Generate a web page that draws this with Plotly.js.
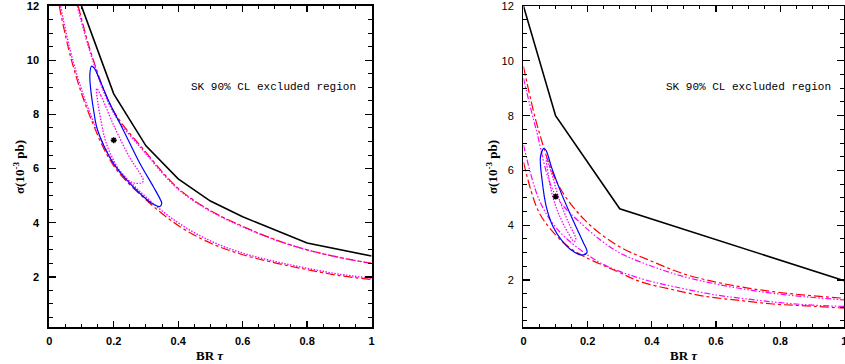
<!DOCTYPE html>
<html>
<head>
<meta charset="utf-8">
<script src="https://cdn.plot.ly/plotly-3.0.1.min.js"></script>
<style>html,body{margin:0;padding:0;background:#fff}#chart{width:845px;height:364px}</style>
</head>
<body>
<div id="chart"></div>
<script>
// ---------- tick labels ----------
const xTickVals = [0, 0.2, 0.4, 0.6, 0.8, 1];
const xTickText = ['0', '0.2', '0.4', '0.6', '0.8', '1'];
const yTickVals = [2, 4, 6, 8, 10, 12];
const yTickText = ['2', '4', '6', '8', '10', '12'];

// ---------- left panel ----------
const L_black_x = [0.1, 0.2, 0.3, 0.4, 0.5, 0.6, 0.8, 1.0];
const L_black_y = [12.0, 8.76, 6.84, 5.62, 4.8, 4.22, 3.25, 2.77];

const L_redUp_x = [0.09, 0.137, 0.2, 0.3, 0.4, 0.5, 0.6, 0.7, 0.8, 0.9, 1.0];
const L_redUp_y = [12.0, 10.0, 8.12, 6.6, 5.27, 4.45, 3.87, 3.38, 3.0, 2.72, 2.5];
const L_magUp_x = [0.087, 0.135, 0.2, 0.3, 0.4, 0.5, 0.6, 0.7, 0.8, 0.9, 1.0];
const L_magUp_y = [12.0, 10.0, 8.05, 6.55, 5.24, 4.43, 3.85, 3.37, 3.0, 2.72, 2.5];

const L_redLo_x = [0.031, 0.069, 0.124, 0.2, 0.3, 0.4, 0.5, 0.6, 0.7, 0.8, 0.9, 1.0];
const L_redLo_y = [12.0, 10.0, 8.0, 6.1, 4.85, 3.9, 3.25, 2.82, 2.52, 2.27, 2.05, 1.9];
const L_magLo_x = [0.035, 0.073, 0.128, 0.2, 0.3, 0.4, 0.5, 0.6, 0.7, 0.8, 0.9, 1.0];
const L_magLo_y = [12.0, 10.0, 8.0, 6.22, 4.95, 4.0, 3.33, 2.88, 2.57, 2.32, 2.1, 1.95];

const L_blue_x = [0.131, 0.126, 0.128, 0.137, 0.147, 0.16, 0.173, 0.199, 0.24, 0.281, 0.318, 0.343, 0.349, 0.345, 0.323, 0.281, 0.23, 0.188, 0.157, 0.14, 0.131];
const L_blue_y = [9.78, 9.5, 9.0, 8.2, 7.54, 7.1, 6.75, 6.19, 5.58, 5.09, 4.72, 4.6, 4.72, 4.85, 5.33, 6.2, 7.42, 8.4, 9.26, 9.7, 9.78];

const L_inner_x = [0.147, 0.16, 0.2, 0.25, 0.28, 0.292, 0.285, 0.26, 0.23, 0.2, 0.175, 0.16, 0.15, 0.147];
const L_inner_y = [8.96, 8.7, 7.6, 6.4, 5.85, 5.55, 5.47, 5.48, 5.7, 6.3, 7.0, 7.8, 8.5, 8.96];

const L_best_x = [0.2];
const L_best_y = [7.05];

// ---------- right panel ----------
const R_black_x = [0, 0.1, 0.3, 1.0];
const R_black_y = [12.0, 8.0, 4.6, 1.97];

const R_redUp_x = [0, 0.047, 0.107, 0.19, 0.294, 0.4, 0.5, 0.6, 0.7, 0.8, 0.9, 1.0];
const R_redUp_y = [9.8, 7.47, 5.5, 4.2, 3.25, 2.68, 2.22, 1.92, 1.7, 1.54, 1.42, 1.33];
const R_magUp_x = [0, 0.04, 0.097, 0.19, 0.294, 0.4, 0.5, 0.6, 0.7, 0.8, 0.9, 1.0];
const R_magUp_y = [9.36, 7.47, 5.16, 3.95, 3.03, 2.5, 2.12, 1.85, 1.64, 1.48, 1.36, 1.27];

const R_magLo_x = [0, 0.045, 0.087, 0.139, 0.242, 0.363, 0.467, 0.6, 0.7, 0.8, 0.9, 1.0];
const R_magLo_y = [6.93, 5.04, 4.13, 3.46, 2.61, 2.06, 1.76, 1.45, 1.3, 1.17, 1.08, 1.03];
const R_redLo_x = [0, 0.045, 0.087, 0.139, 0.19, 0.294, 0.363, 0.467, 0.571, 0.674, 0.778, 0.882, 1.0];
const R_redLo_y = [6.3, 4.55, 3.82, 3.22, 2.85, 2.3, 1.94, 1.64, 1.39, 1.25, 1.12, 1.05, 0.97];

const R_blue_x = [0.064, 0.053, 0.058, 0.071, 0.092, 0.118, 0.149, 0.18, 0.198, 0.185, 0.154, 0.118, 0.087, 0.071, 0.064];
const R_blue_y = [6.81, 6.5, 5.65, 4.68, 3.95, 3.46, 3.09, 2.91, 3.0, 3.4, 4.19, 5.16, 6.13, 6.72, 6.81];

const R_inner_x = [0.071, 0.085, 0.11, 0.14, 0.163, 0.158, 0.14, 0.11, 0.09, 0.078, 0.071];
const R_inner_y = [6.44, 6.0, 5.0, 4.1, 3.5, 3.4, 3.7, 4.4, 5.1, 5.8, 6.44];

const R_best_x = [0.1];
const R_best_y = [5.05];

const noteText = 'SK 90% CL excluded region';
const xTitle = 'BR <i>τ</i>';
const yTitle = 'σ(10<sup>-3</sup> pb)';

// ---------- traces ----------
function line(x, y, xa, ya, color, dash, width, shape) {
  return {x: x, y: y, xaxis: xa, yaxis: ya, type: 'scatter', mode: 'lines',
          line: {color: color, dash: dash, width: width, shape: shape || 'spline', smoothing: 1},
          hoverinfo: 'skip'};
}
const RED = '#ff0000', MAG = '#ff00ff', BLUE = '#0000ff', BLK = '#000000';
const magDashR = '6px,2px,1.5px,2px,1.5px,2px';
const magDot = '1.5px,1.5px';

const traces = [
  line(L_redUp_x, L_redUp_y, 'x', 'y', RED, 'dashdot', 1.2),
  line(L_magUp_x, L_magUp_y, 'x', 'y', MAG, magDot, 1.4),
  line(L_redLo_x, L_redLo_y, 'x', 'y', RED, 'dashdot', 1.2),
  line(L_magLo_x, L_magLo_y, 'x', 'y', MAG, magDot, 1.4),
  line(L_inner_x, L_inner_y, 'x', 'y', MAG, magDot, 1.3),
  line(L_blue_x, L_blue_y, 'x', 'y', BLUE, 'solid', 1.2),
  line(L_black_x, L_black_y, 'x', 'y', BLK, 'solid', 1.6, 'linear'),
  {x: L_best_x, y: L_best_y, xaxis: 'x', yaxis: 'y', type: 'scatter', mode: 'markers',
   marker: {symbol: 'asterisk', size: 5, color: BLK, line: {color: BLK, width: 1.5}}, hoverinfo: 'skip'},

  line(R_redUp_x, R_redUp_y, 'x2', 'y2', RED, 'dashdot', 1.2),
  line(R_magUp_x, R_magUp_y, 'x2', 'y2', MAG, magDashR, 1.2),
  line(R_redLo_x, R_redLo_y, 'x2', 'y2', RED, 'dashdot', 1.2),
  line(R_magLo_x, R_magLo_y, 'x2', 'y2', MAG, magDashR, 1.2),
  line(R_inner_x, R_inner_y, 'x2', 'y2', MAG, magDot, 1.3),
  line(R_blue_x, R_blue_y, 'x2', 'y2', BLUE, 'solid', 1.2),
  line(R_black_x, R_black_y, 'x2', 'y2', BLK, 'solid', 1.6, 'linear'),
  {x: R_best_x, y: R_best_y, xaxis: 'x2', yaxis: 'y2', type: 'scatter', mode: 'markers',
   marker: {symbol: 'asterisk', size: 5, color: BLK, line: {color: BLK, width: 1.5}}, hoverinfo: 'skip'}
];

// ---------- layout ----------
const tickFontBold = {family: 'Liberation Sans, Arial, sans-serif', size: 11, color: '#000', weight: 'bold'};
function xAxis(domain, anchor, lw) {
  return {domain: domain, anchor: anchor, range: [0, 1.0005], showgrid: false, zeroline: false,
          showline: true, mirror: 'ticks', linecolor: BLK, linewidth: lw,
          ticks: 'inside', ticklen: 6, tickwidth: 1.2, tickcolor: BLK,
          tickmode: 'array', tickvals: xTickVals, ticktext: xTickText,
          tickfont: tickFontBold, ticklabelstandoff: 3, ticklabeloverflow: 'allow',
          minor: {ticks: 'inside', ticklen: 3, tickwidth: 1, tickcolor: BLK, tickmode: 'linear', tick0: 0, dtick: 0.05, showgrid: false}};
}
function yAxis(domain, anchor, range, lw, font) {
  return {domain: domain, anchor: anchor, range: range, showgrid: false, zeroline: false,
          showline: true, mirror: 'ticks', linecolor: BLK, linewidth: lw,
          ticks: 'inside', ticklen: 7, tickwidth: 1.2, tickcolor: BLK,
          tickmode: 'array', tickvals: yTickVals, ticktext: yTickText,
          tickfont: font, ticklabelstandoff: 6, ticklabeloverflow: 'allow',
          minor: {ticks: 'inside', ticklen: 4, tickwidth: 1, tickcolor: BLK, tickmode: 'linear', tick0: 0, dtick: 0.5, showgrid: false}};
}

const noteFont = {family: 'Liberation Mono, DejaVu Sans Mono, monospace', size: 11, color: '#000'};
const titleFont = {family: 'Liberation Serif, DejaVu Serif, serif', size: 13, color: '#000', weight: 'bold'};

function ann(x, y, text, extra) {
  return Object.assign({xref: 'paper', yref: 'paper', x: x, y: y, text: text, showarrow: false,
                        xanchor: 'center', yanchor: 'middle', font: titleFont}, extra || {});
}

const layout = {
  width: 845, height: 364,
  margin: {l: 0, r: 0, t: 6, b: 37},
  paper_bgcolor: '#fff', plot_bgcolor: '#fff',
  showlegend: false,
  xaxis: xAxis([0.0583, 0.4399], 'y', 2),
  yaxis: yAxis([0, 1], 'x', [0.15, 12.005], 2, tickFontBold),
  xaxis2: xAxis([0.6195, 0.9994], 'y2', 1.5),
  yaxis2: yAxis([0, 1], 'x2', [0.28, 12.005], 1.5, {family: 'Liberation Sans, Arial, sans-serif', size: 11, color: '#000'}),
  annotations: [
    {xref: 'x', yref: 'y', x: 0.697, y: 9.0, text: noteText, showarrow: false, xanchor: 'center', yanchor: 'middle', font: noteFont},
    {xref: 'x2', yref: 'y2', x: 0.701, y: 9.04, text: noteText, showarrow: false, xanchor: 'center', yanchor: 'middle', font: noteFont},
    ann(210 / 845, (327 - 355) / 321, xTitle),
    ann(684 / 845, (327 - 355) / 321, xTitle),
    ann(19 / 845, (327 - 167) / 321, yTitle, {textangle: -90}),
    ann(492 / 845, (327 - 167) / 321, yTitle, {textangle: -90})
  ]
};

Plotly.newPlot('chart', traces, layout, {displayModeBar: false, staticPlot: true});
</script>
</body>
</html>
